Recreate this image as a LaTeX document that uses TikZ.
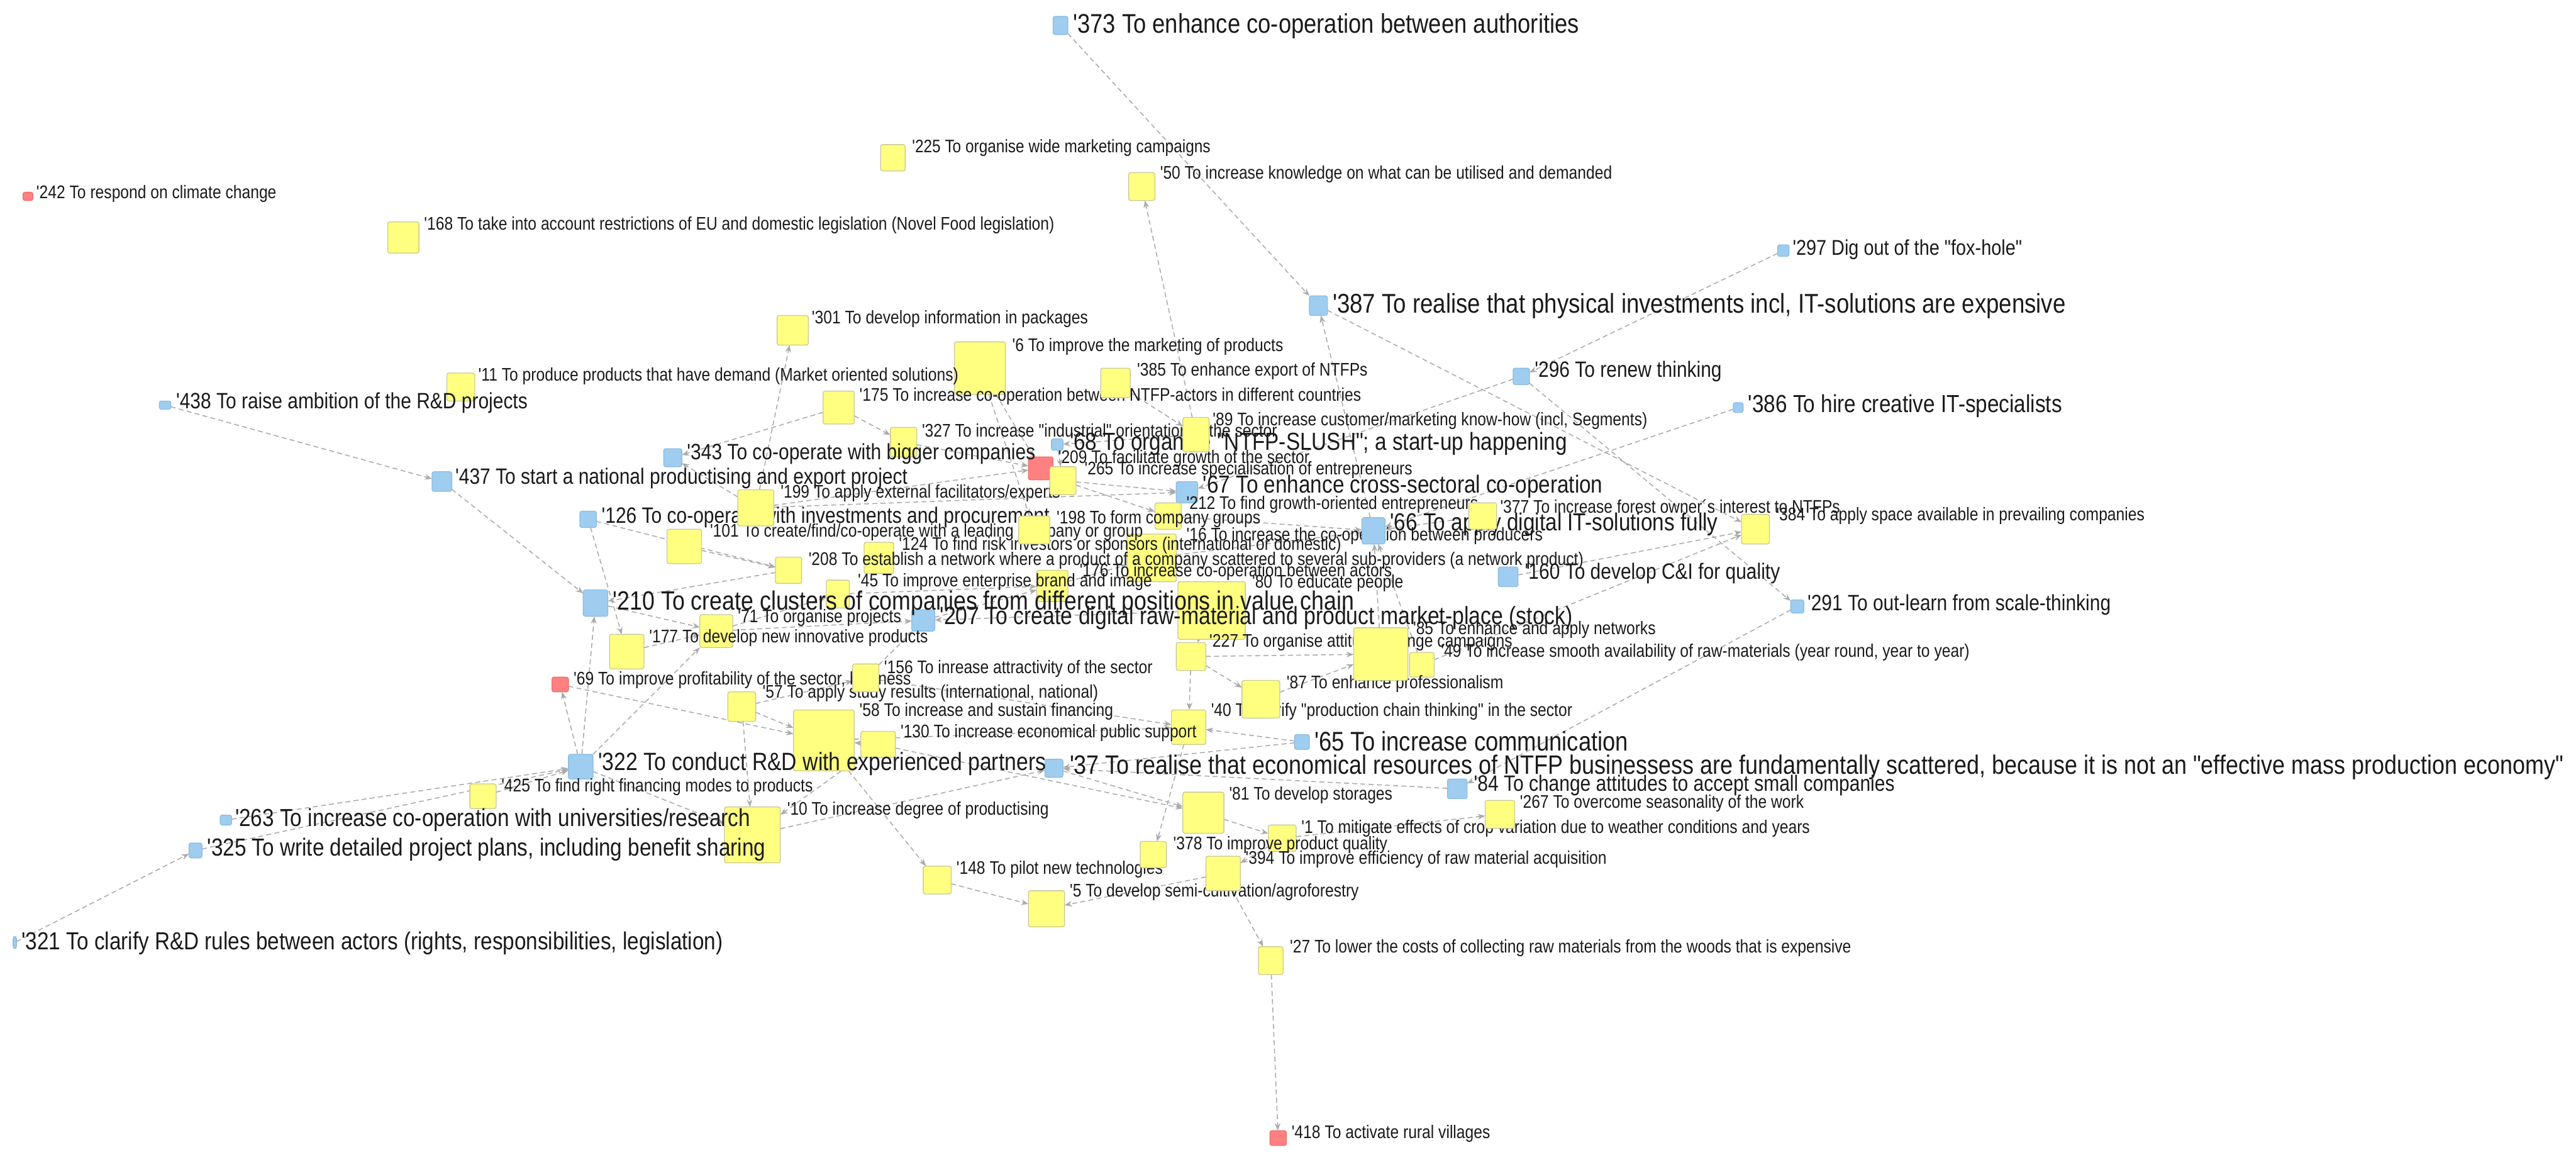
\documentclass[tikz,border=0pt]{standalone}
\usepackage{fontspec}
\newfontfamily\tf[FakeStretch=0.85]{Liberation Sans}
\usetikzlibrary{arrows.meta}
\definecolor{yelF}{HTML}{FFFF80}
\definecolor{yelB}{HTML}{C9C99A}
\definecolor{bluF}{HTML}{9ECDF0}
\definecolor{bluB}{HTML}{8DBDE2}
\definecolor{redF}{HTML}{FF8080}
\definecolor{redB}{HTML}{EE7070}
\definecolor{edgeC}{HTML}{ABABAB}
\definecolor{txt}{HTML}{1A1A1A}
\pgfdeclarelayer{bg}
\pgfsetlayers{bg,main}
\tikzset{
  ys/.style={draw=yelB, fill=yelF, rounded corners=1.2pt, line width=0.5pt, inner sep=0pt, outer sep=0pt},
  bs/.style={draw=bluB, fill=bluF, rounded corners=1.2pt, line width=0.5pt, inner sep=0pt, outer sep=0pt},
  rs/.style={draw=redB, fill=redF, rounded corners=1.2pt, line width=0.5pt, inner sep=0pt, outer sep=0pt},
  lbl/.style={anchor=west, inner sep=0pt, font=\tf, text=txt},
  lnk/.style={draw=edgeC, dash pattern=on 3pt off 2pt, line width=0.6pt, -{Stealth[length=4.5pt,width=3.5pt]}}
}
\newcommand\sq[6]{\node[#2, minimum width={(#5-#3)*1pt}, minimum height={(#6-#4)*1pt}] (#1) at ({(#3+#5)/2},{(#4+#6)/2}) {};}
\newcommand\lb[5]{\node[lbl] (#1) at (#2,#3) {\fontsize{#4}{#4}\selectfont #5};}
\begin{document}
\begin{tikzpicture}[x=1pt,y=-1pt]
\useasboundingbox (0,0) rectangle (1568,710);
% squares, group A
\sq{n373}{bs}{641}{10}{650}{21}
\sq{n225}{ys}{536}{88}{551}{104}
\sq{n50}{ys}{687}{105}{703}{122}
\sq{n242}{rs}{14}{117}{20}{122}
\sq{n168}{ys}{236}{135}{255}{154}
\sq{n297}{bs}{1082}{149}{1089}{156}
\sq{n387}{bs}{797}{180}{808}{192}
\sq{n301}{ys}{473}{192}{492}{210}
\sq{n6}{ys}{581}{208}{612}{240}
\sq{n296}{bs}{921}{224}{931}{234}
\sq{n11}{ys}{272}{227}{289}{244}
\sq{n175}{ys}{501}{238}{520}{258}
\sq{n438}{bs}{97}{244}{104}{249}
\sq{n386}{bs}{1055}{245}{1061}{251}
\sq{n327}{ys}{542}{260}{558}{278}
\sq{n68}{bs}{640}{267}{647}{274}
\sq{n343}{bs}{404}{273}{415}{284}
\sq{n209}{rs}{626}{278}{641}{292}
\sq{n437}{bs}{263}{287}{275}{299}
\sq{n67}{bs}{716}{293}{729}{306}
\sq{n212}{ys}{703}{306}{719}{322}
\sq{n384}{ys}{1060}{313}{1077}{331}
\sq{n126}{bs}{353}{311}{363}{321}
\sq{n101}{ys}{406}{322}{427}{343}
\sq{n16}{ys}{686}{325}{716}{354}
\sq{n124}{ys}{526}{330}{544}{349}
\sq{n208}{ys}{472}{339}{488}{355}
\sq{n160}{bs}{912}{345}{924}{357}
\sq{n176}{ys}{631}{347}{650}{366}
\sq{n45}{ys}{503}{353}{517}{370}
\sq{n80}{ys}{717}{354}{758}{389}
\sq{n210}{bs}{355}{359}{370}{375}
\sq{n291}{bs}{1090}{365}{1098}{373}
\sq{n207}{bs}{555}{371}{569}{384}
\sq{n71}{ys}{426}{374}{446}{394}
\sq{n177}{ys}{371}{386}{392}{407}
\sq{n227}{ys}{716}{391}{734}{408}
\sq{n49}{ys}{858}{397}{873}{412}
\sq{n69}{rs}{336}{412}{346}{421}
\sq{n57}{ys}{443}{421}{460}{439}
\sq{n58}{ys}{483}{432}{520}{469}
\sq{n40}{ys}{713}{432}{734}{453}
\sq{n130}{ys}{524}{445}{545}{461}
\sq{n65}{bs}{788}{447}{797}{456}
\sq{n322}{bs}{346}{459}{361}{474}
\sq{n37}{bs}{636}{462}{647}{473}
\sq{n84}{bs}{881}{474}{893}{486}
\sq{n425}{ys}{286}{477}{302}{492}
\sq{n81}{ys}{720}{482}{745}{507}
\sq{n10}{ys}{441}{491}{475}{525}
\sq{n263}{bs}{134}{496}{141}{502}
\sq{n1}{ys}{772}{502}{789}{518}
\sq{n325}{bs}{115}{513}{123}{522}
\sq{n148}{ys}{562}{527}{579}{544}
\sq{n5}{ys}{626}{542}{648}{564}
\sq{n321}{bs}{8}{570}{10}{577}
\sq{n27}{ys}{766}{576}{781}{593}
\sq{n418}{rs}{773}{688}{783}{697}
% labels
\lb{l373}{653}{16}{16.4}{'373 To enhance co-operation between authorities}
\lb{l225}{555}{90}{11}{'225 To organise wide marketing campaigns}
\lb{l50}{706}{106}{11.1}{'50 To increase knowledge on what can be utilised and demanded}
\lb{l242}{22}{118}{11.1}{'242 To respond on climate change}
\lb{l168}{258}{137}{11.1}{'168 To take into account restrictions of EU and domestic legislation (Novel Food legislation)}
\lb{l297}{1091}{152}{13}{'297 Dig out of the "fox-hole"}
\lb{l387}{811}{186}{16.5}{'387 To realise that physical investments incl, IT-solutions are expensive}
\lb{l301}{494}{194}{11.1}{'301 To develop information in packages}
\lb{l6}{616}{211}{11.1}{'6 To improve the marketing of products}
\lb{l296}{934}{226}{13.5}{'296 To renew thinking}
\lb{l11}{291}{229}{11.1}{'11 To produce products that have demand (Market oriented solutions)}
\lb{l385}{692}{226}{11.1}{'385 To enhance export of NTFPs}
\lb{l175}{523}{241}{11.1}{'175 To increase co-operation between NTFP-actors in different countries}
\lb{l438}{107}{245}{13.5}{'438 To raise ambition of the R\&D projects}
\lb{l386}{1064}{247}{15}{'386 To hire creative IT-specialists}
\lb{l89}{738}{256}{11.1}{'89 To increase customer/marketing know-how (incl, Segments)}
\lb{l327}{561}{262}{11.1}{'327 To increase "industrial" orientation in the sector}
\lb{l68}{651}{270}{15}{'68 To organise "NTFP-SLUSH"; a start-up happening}
\lb{l343}{418}{276}{13.5}{'343 To co-operate with bigger companies}
\lb{l209}{644}{279}{11.1}{'209 To facilitate growth of the sector}
\lb{l265}{660}{286}{11.1}{'265 To increase specialisation of entrepreneurs}
\lb{l437}{277}{291}{13.5}{'437 To start a national productising and export project}
\lb{l67}{732}{296}{15}{'67 To enhance cross-sectoral co-operation}
\lb{l199}{475}{300}{11.1}{'199 To apply external facilitators/experts}
\lb{l377}{913}{308}{11.1}{'377 To increase forest owner´s interest to NTFPs}
\lb{l212}{722}{307}{11.1}{'212 To find growth-oriented entrepreneurs}
\lb{l384}{1081}{314}{11.1}{'384 To apply space available in prevailing companies}
\lb{l126}{366}{315}{13.5}{'126 To co-operate with investments and procurement}
\lb{l198}{643}{316}{11.1}{'198 To form company groups}
\lb{l66}{846}{319}{15}{'66 To apply digital IT-solutions fully}
\lb{l101}{432}{324}{11.1}{'101 To create/find/co-operate with a leading company or group}
\lb{l16}{722}{326}{11.1}{'16 To increase the co-operation between producers}
\lb{l124}{547}{332}{11.1}{'124 To find risk investors or sponsors (international or domestic)}
\lb{l208}{492}{341}{11.1}{'208 To establish a network where a product of a company scattered to several sub-providers (a network product)}
\lb{l160}{928}{349}{13.5}{'160 To develop C\&I for quality}
\lb{l176}{657}{348}{11.1}{'176 To increase co-operation between actors}
\lb{l45}{522}{354}{11.1}{'45 To improve enterprise brand and image}
\lb{l80}{762}{355}{11.1}{'80 To educate people}
\lb{l210}{373}{367}{16.1}{'210 To create clusters of companies from different positions in value chain}
\lb{l291}{1100}{368}{13.5}{'291 To out-learn from scale-thinking}
\lb{l207}{572}{376}{15.2}{'207 To create digital raw-material and product market-place (stock)}
\lb{l71}{449}{376}{11.1}{'71 To organise projects}
\lb{l85}{860}{383}{11.1}{'85 To enhance and apply networks}
\lb{l177}{395}{388}{11.1}{'177 To develop new innovative products}
\lb{l227}{736}{391}{11.1}{'227 To organise attitude change campaigns}
\lb{l49}{877}{397}{11.1}{'49 To increase smooth availability of raw-materials (year round, year to year)}
\lb{l156}{538}{407}{11.1}{'156 To inrease attractivity of the sector}
\lb{l69}{349}{414}{11.1}{'69 To improve profitability of the sector, business}
\lb{l87}{783}{416}{11.1}{'87 To enhance professionalism}
\lb{l57}{464}{422}{11.1}{'57 To apply study results (international, national)}
\lb{l58}{523}{433}{11.1}{'58 To increase and sustain financing}
\lb{l40}{737}{433}{11.1}{'40 To clarify "production chain thinking" in the sector}
\lb{l130}{548}{446}{11.1}{'130 To increase economical public support}
\lb{l65}{800}{451}{16.4}{'65 To increase communication}
\lb{l322}{364}{465}{15.2}{'322 To conduct R\&D with experienced partners}
\lb{l37}{651}{467}{16.2}{'37 To realise that economical resources of NTFP businessess are fundamentally scattered, because it is not an "effective mass production economy"}
\lb{l84}{897}{478}{13.5}{'84 To change attitudes to accept small companies}
\lb{l425}{305}{479}{11.1}{'425 To find right financing modes to products}
\lb{l81}{748}{484}{11.1}{'81 To develop storages}
\lb{l267}{925}{489}{11.1}{'267 To overcome seasonality of the work}
\lb{l10}{479}{493}{11.1}{'10 To increase degree of productising}
\lb{l263}{143}{499}{15}{'263 To increase co-operation with universities/research}
\lb{l1}{792}{504}{11.1}{'1 To mitigate effects of crop variation due to weather conditions and years}
\lb{l378}{714}{514}{11.1}{'378 To improve product quality}
\lb{l325}{126}{517}{15}{'325 To write detailed project plans, including benefit sharing}
\lb{l394}{758}{523}{11.1}{'394 To improve efficiency of raw material acquisition}
\lb{l148}{582}{529}{11.1}{'148 To pilot new technologies}
\lb{l5}{651}{543}{11.1}{'5 To develop semi-cultivation/agroforestry}
\lb{l321}{13}{574}{15}{'321 To clarify R\&D rules between actors (rights, responsibilities, legislation)}
\lb{l27}{785}{577}{11.1}{'27 To lower the costs of collecting raw materials from the woods that is expensive}
\lb{l418}{786}{690}{11.1}{'418 To activate rural villages}
% squares, group B (on top of labels)
\sq{n199}{ys}{449}{298}{471}{320}
\sq{n89}{ys}{720}{254}{736}{275}
\sq{n66}{bs}{829}{315}{843}{331}
\sq{n377}{ys}{894}{306}{911}{322}
\sq{n156}{ys}{519}{404}{535}{421}
\sq{n87}{ys}{756}{414}{779}{437}
\sq{n267}{ys}{904}{487}{922}{504}
\sq{n198}{ys}{620}{314}{639}{331}
\sq{n385}{ys}{670}{224}{688}{242}
\sq{n394}{ys}{734}{521}{755}{542}
\sq{n378}{ys}{694}{512}{710}{528}
\sq{n85}{ys}{824}{382}{857}{414}
\sq{n265}{ys}{639}{284}{655}{301}
% connectors
\begin{pgfonlayer}{bg}
\foreach \a/\b in {373/387, 89/50, 297/296, 387/384, 66/387, 296/67, 386/66, 296/291, 291/84,
  160/384, 49/384, 438/437, 437/210, 263/322, 325/322, 425/322, 321/325, 322/69, 208/210,
  322/210, 126/177, 101/208, 126/208, 71/45, 80/207, 322/71, 69/58, 57/58, 58/148, 10/37,
  148/5, 130/81, 81/1, 40/378, 1/394, 394/27, 394/5, 27/418, 58/40, 65/40, 227/40, 227/87,
  87/85, 85/66, 49/66, 265/67, 199/67, 199/209, 6/209, 6/198, 385/89, 175/343, 175/327,
  327/209, 199/343, 199/301, 16/66, 212/66, 68/265, 89/68, 156/207, 57/156, 130/58, 65/37,
  84/37, 1/267, 377/66, 322/10, 37/81, 176/16, 207/176, 45/176, 71/207, 210/71, 177/71,
  57/10, 156/40, 265/212, 212/67, 80/227, 227/85, 130/10}
  \draw[lnk] (n\a) -- (n\b);
\end{pgfonlayer}
\end{tikzpicture}
\end{document}
